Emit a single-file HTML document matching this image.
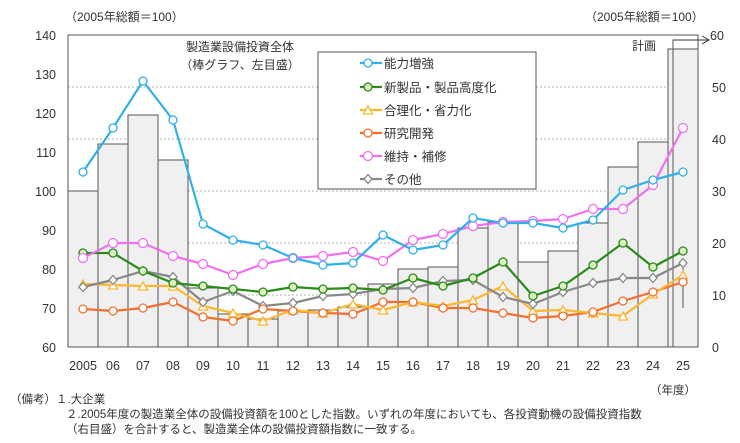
<!DOCTYPE html>
<html><head><meta charset="utf-8"><style>
body{margin:0;background:#fff;}
svg text{font-family:"Liberation Sans","Noto Sans CJK JP",sans-serif;fill:#333;}
</style></head><body>
<svg width="740" height="438" viewBox="0 0 740 438" xmlns="http://www.w3.org/2000/svg">
<defs>
<path id="tri" d="M0 -5 L4.5 3 L-4.5 3Z" fill="#fff" stroke="#fbb830" stroke-width="1.3"/>
<path id="dia" d="M0 -4.5 L4 0 L0 4.5 L-4 0Z" fill="#fff" stroke="#888" stroke-width="1.3"/>
</defs>
<rect width="740" height="438" fill="#fff"/>
<g font-size="12">
<text x="65" y="21">（2005年総額＝100）</text>
<text x="585" y="21">（2005年総額＝100）</text>
</g>
<rect x="68" y="35" width="630" height="312" fill="none" stroke="#555" stroke-width="1"/>
<g stroke="#999" stroke-dasharray="2,2" stroke-width="0.8">
<line x1="68" x2="698" y1="87" y2="87"/><line x1="68" x2="698" y1="139" y2="139"/>
<line x1="68" x2="698" y1="191" y2="191"/><line x1="68" x2="698" y1="243" y2="243"/>
<line x1="68" x2="698" y1="295" y2="295"/>
</g>
<g fill="#f0f0f0" stroke="#555" stroke-width="1">
<rect x="68" y="191" width="30" height="156"/>
<rect x="98" y="144" width="30" height="203"/>
<rect x="128" y="115" width="30" height="232"/>
<rect x="158" y="160" width="30" height="187"/>
<rect x="188" y="288" width="30" height="59"/>
<rect x="218" y="314" width="30" height="33"/>
<rect x="248" y="319" width="30" height="28"/>
<rect x="278" y="311" width="30" height="36"/>
<rect x="308" y="310" width="30" height="37"/>
<rect x="338" y="307" width="30" height="40"/>
<rect x="368" y="284" width="30" height="63"/>
<rect x="398" y="269" width="30" height="78"/>
<rect x="428" y="267" width="30" height="80"/>
<rect x="458" y="228" width="30" height="119"/>
<rect x="488" y="222" width="30" height="125"/>
<rect x="518" y="262" width="30" height="85"/>
<rect x="548" y="251" width="30" height="96"/>
<rect x="578" y="223" width="30" height="124"/>
<rect x="608" y="167" width="30" height="180"/>
<rect x="638" y="142" width="30" height="205"/>
<rect x="668" y="49" width="30" height="298"/>
<rect x="673" y="40" width="25" height="307" fill="none"/>
</g>
<line x1="673" y1="40" x2="708" y2="40" stroke="#333"/>
<path d="M702 36 L709 40 L702 44" fill="none" stroke="#333"/>
<line x1="683" y1="265" x2="683" y2="308" stroke="#555"/>
<text x="632" y="50" font-size="12">計画</text>
<g font-size="12" fill="#333">
<text x="240" y="51" text-anchor="middle">製造業設備投資全体</text>
<text x="240" y="69" text-anchor="middle">（棒グラフ、左目盛）</text>
</g>
<g fill="none" stroke-width="2.2" stroke-linejoin="round">
<polyline stroke="#f07030" points="83,309 113,311 143,308 173,302 203,317 233,321 263,309 293,311 323,313 353,314 383,302 413,302 443,308 473,308 503,313 533,318 563,316 593,312 623,301 653,292 683,282"/>
<polyline stroke="#fbb830" points="83,284 113,285 143,286 173,286 203,306 233,313 263,321 293,310 323,313 353,304 383,310 413,302 443,306 473,300 503,286 533,311 563,310 593,313 623,316 653,294 683,275"/>
<polyline stroke="#888" points="83,287 113,280 143,271 173,277 203,302 233,291 263,306 293,303 323,296 353,294 383,289 413,288 443,281 473,280 503,297 533,304 563,292 593,283 623,278 653,278 683,263"/>
<polyline stroke="#2a8a1a" points="83,253 113,253 143,271 173,283 203,286 233,289 263,292 293,287 323,289 353,288 383,290 413,278 443,286 473,278 503,262 533,296 563,286 593,265 623,243 653,267 683,251"/>
<polyline stroke="#f070f0" points="83,258 113,243 143,243 173,256 203,264 233,275 263,264 293,258 323,256 353,252 383,261 413,240 443,234 473,226 503,222 533,221 563,219 593,209 623,209 653,185 683,128"/>
<polyline stroke="#30b0e8" points="83,172 113,128 143,81 173,120 203,224 233,240 263,245 293,258 323,265 353,263 383,235 413,250 443,245 473,218 503,223 533,223 563,228 593,220 623,190 653,180 683,172"/>
</g>
<g>
<use href="#tri" x="83" y="285"/><use href="#tri" x="113" y="286"/><use href="#tri" x="143" y="287"/><use href="#tri" x="173" y="287"/><use href="#tri" x="203" y="307"/><use href="#tri" x="233" y="314"/><use href="#tri" x="263" y="322"/><use href="#tri" x="293" y="311"/><use href="#tri" x="323" y="314"/><use href="#tri" x="353" y="305"/><use href="#tri" x="383" y="311"/><use href="#tri" x="413" y="303"/><use href="#tri" x="443" y="307"/><use href="#tri" x="473" y="301"/><use href="#tri" x="503" y="287"/><use href="#tri" x="533" y="312"/><use href="#tri" x="563" y="311"/><use href="#tri" x="593" y="314"/><use href="#tri" x="623" y="317"/><use href="#tri" x="653" y="295"/><use href="#tri" x="683" y="276"/>
<use href="#dia" x="83" y="287"/><use href="#dia" x="113" y="280"/><use href="#dia" x="143" y="271"/><use href="#dia" x="173" y="277"/><use href="#dia" x="203" y="302"/><use href="#dia" x="233" y="291"/><use href="#dia" x="263" y="306"/><use href="#dia" x="293" y="303"/><use href="#dia" x="323" y="296"/><use href="#dia" x="353" y="294"/><use href="#dia" x="383" y="289"/><use href="#dia" x="413" y="288"/><use href="#dia" x="443" y="281"/><use href="#dia" x="473" y="280"/><use href="#dia" x="503" y="297"/><use href="#dia" x="533" y="304"/><use href="#dia" x="563" y="292"/><use href="#dia" x="593" y="283"/><use href="#dia" x="623" y="278"/><use href="#dia" x="653" y="278"/><use href="#dia" x="683" y="263"/>
</g>
<g stroke-width="1.3">
<g fill="#fff" stroke="#f07030"><circle cx="83" cy="309" r="4"/><circle cx="113" cy="311" r="4"/><circle cx="143" cy="308" r="4"/><circle cx="173" cy="302" r="4"/><circle cx="203" cy="317" r="4"/><circle cx="233" cy="321" r="4"/><circle cx="263" cy="309" r="4"/><circle cx="293" cy="311" r="4"/><circle cx="323" cy="313" r="4"/><circle cx="353" cy="314" r="4"/><circle cx="383" cy="302" r="4"/><circle cx="413" cy="302" r="4"/><circle cx="443" cy="308" r="4"/><circle cx="473" cy="308" r="4"/><circle cx="503" cy="313" r="4"/><circle cx="533" cy="318" r="4"/><circle cx="563" cy="316" r="4"/><circle cx="593" cy="312" r="4"/><circle cx="623" cy="301" r="4"/><circle cx="653" cy="292" r="4"/><circle cx="683" cy="282" r="4"/></g>
<g fill="#dcf0c0" stroke="#2a8a1a"><circle cx="83" cy="253" r="4"/><circle cx="113" cy="253" r="4"/><circle cx="143" cy="271" r="4"/><circle cx="173" cy="283" r="4"/><circle cx="203" cy="286" r="4"/><circle cx="233" cy="289" r="4"/><circle cx="263" cy="292" r="4"/><circle cx="293" cy="287" r="4"/><circle cx="323" cy="289" r="4"/><circle cx="353" cy="288" r="4"/><circle cx="383" cy="290" r="4"/><circle cx="413" cy="278" r="4"/><circle cx="443" cy="286" r="4"/><circle cx="473" cy="278" r="4"/><circle cx="503" cy="262" r="4"/><circle cx="533" cy="296" r="4"/><circle cx="563" cy="286" r="4"/><circle cx="593" cy="265" r="4"/><circle cx="623" cy="243" r="4"/><circle cx="653" cy="267" r="4"/><circle cx="683" cy="251" r="4"/></g>
<g fill="#fff" stroke="#f070f0"><circle cx="83" cy="258" r="4.5"/><circle cx="113" cy="243" r="4.5"/><circle cx="143" cy="243" r="4.5"/><circle cx="173" cy="256" r="4.5"/><circle cx="203" cy="264" r="4.5"/><circle cx="233" cy="275" r="4.5"/><circle cx="263" cy="264" r="4.5"/><circle cx="293" cy="258" r="4.5"/><circle cx="323" cy="256" r="4.5"/><circle cx="353" cy="252" r="4.5"/><circle cx="383" cy="261" r="4.5"/><circle cx="413" cy="240" r="4.5"/><circle cx="443" cy="234" r="4.5"/><circle cx="473" cy="226" r="4.5"/><circle cx="503" cy="222" r="4.5"/><circle cx="533" cy="221" r="4.5"/><circle cx="563" cy="219" r="4.5"/><circle cx="593" cy="209" r="4.5"/><circle cx="623" cy="209" r="4.5"/><circle cx="653" cy="185" r="4.5"/><circle cx="683" cy="128" r="4.5"/></g>
<g fill="#fff" stroke="#30b0e8"><circle cx="83" cy="172" r="4"/><circle cx="113" cy="128" r="4"/><circle cx="143" cy="81" r="4"/><circle cx="173" cy="120" r="4"/><circle cx="203" cy="224" r="4"/><circle cx="233" cy="240" r="4"/><circle cx="263" cy="245" r="4"/><circle cx="293" cy="258" r="4"/><circle cx="323" cy="265" r="4"/><circle cx="353" cy="263" r="4"/><circle cx="383" cy="235" r="4"/><circle cx="413" cy="250" r="4"/><circle cx="443" cy="245" r="4"/><circle cx="473" cy="218" r="4"/><circle cx="503" cy="223" r="4"/><circle cx="533" cy="223" r="4"/><circle cx="563" cy="228" r="4"/><circle cx="593" cy="220" r="4"/><circle cx="623" cy="190" r="4"/><circle cx="653" cy="180" r="4"/><circle cx="683" cy="172" r="4"/></g>
</g>
<rect x="318" y="52" width="218" height="137" fill="#fff" stroke="#555"/>
<g stroke-width="2.2">
<line x1="360" x2="382" y1="63" y2="63" stroke="#30b0e8"/><circle cx="368" cy="63" r="4" fill="#fff" stroke="#30b0e8" stroke-width="1.3"/>
<line x1="360" x2="382" y1="87" y2="87" stroke="#2a8a1a"/><circle cx="368" cy="87" r="4" fill="#dcf0c0" stroke="#2a8a1a" stroke-width="1.3"/>
<line x1="360" x2="382" y1="110" y2="110" stroke="#fbb830"/><use href="#tri" x="368" y="111"/>
<line x1="360" x2="382" y1="133" y2="133" stroke="#f07030"/><circle cx="368" cy="133" r="4" fill="#fff" stroke="#f07030" stroke-width="1.3"/>
<line x1="360" x2="382" y1="156" y2="156" stroke="#f070f0"/><circle cx="368" cy="156" r="4.5" fill="#fff" stroke="#f070f0" stroke-width="1.3"/>
<line x1="360" x2="382" y1="179" y2="179" stroke="#888"/><use href="#dia" x="368" y="179"/>
</g>
<g font-size="12.5">
<text x="384" y="68">能力増強</text><text x="384" y="92">新製品・製品高度化</text>
<text x="384" y="115">合理化・省力化</text><text x="384" y="138">研究開発</text>
<text x="384" y="161">維持・補修</text><text x="384" y="184">その他</text>
</g>
<g font-size="12.5" text-anchor="end">
<text x="56" y="40">140</text><text x="56" y="79">130</text><text x="56" y="118">120</text>
<text x="56" y="157">110</text><text x="56" y="196">100</text><text x="56" y="235">90</text>
<text x="56" y="274">80</text><text x="56" y="313">70</text><text x="56" y="352">60</text>
</g>
<g font-size="12.5">
<text x="710" y="40">60</text><text x="712" y="92">50</text><text x="712" y="144">40</text>
<text x="712" y="196">30</text><text x="712" y="248">20</text><text x="712" y="300">10</text>
<text x="712" y="352">0</text>
</g>
<g font-size="12.5" text-anchor="middle">
<text x="83" y="370">2005</text><text x="113" y="370">06</text><text x="143" y="370">07</text><text x="173" y="370">08</text>
<text x="203" y="370">09</text><text x="233" y="370">10</text><text x="263" y="370">11</text><text x="293" y="370">12</text>
<text x="323" y="370">13</text><text x="353" y="370">14</text><text x="383" y="370">15</text><text x="413" y="370">16</text>
<text x="443" y="370">17</text><text x="473" y="370">18</text><text x="503" y="370">19</text><text x="533" y="370">20</text>
<text x="563" y="370">21</text><text x="593" y="370">22</text><text x="623" y="370">23</text><text x="653" y="370">24</text>
<text x="683" y="370">25</text>
</g>
<g font-size="11.5">
<text x="650" y="394">（年度）</text>
<text x="10" y="403">（備考）１.大企業</text>
<text x="66" y="418">２.2005年度の製造業全体の設備投資額を100とした指数。いずれの年度においても、各投資動機の設備投資指数</text>
<text x="66" y="433">（右目盛）を合計すると、製造業全体の設備投資額指数に一致する。</text>
</g>
</svg>
</body></html>
